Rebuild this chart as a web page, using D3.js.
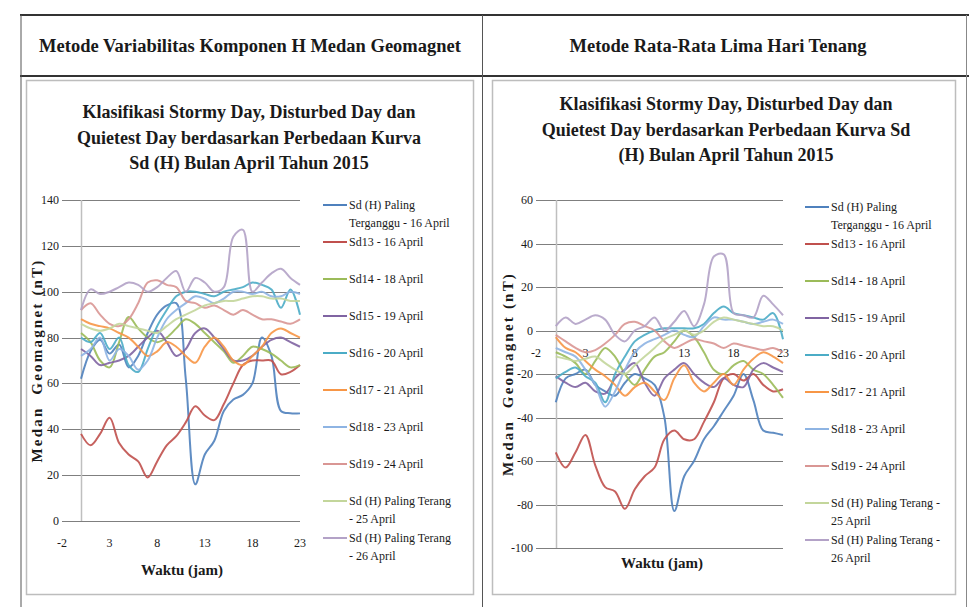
<!DOCTYPE html>
<html><head><meta charset="utf-8">
<script src="https://cdn.jsdelivr.net/npm/d3@7"></script>
<style>
html,body{margin:0;padding:0;background:#fff;}
svg{display:block;}
text{font-family:"Liberation Serif","Times New Roman",serif;fill:#1a1a1a;}
</style></head><body>
<svg id="c" width="969" height="607"></svg>
<script>
// ---------- DATA ----------
const hours = d3.range(0, 24);
const xTicks = [-2, 3, 8, 13, 18, 23];
const yTicksLeft = [0, 20, 40, 60, 80, 100, 120, 140];
const yTicksRight = [-100, -80, -60, -40, -20, 0, 20, 40, 60];

const headerLeft = "Metode Variabilitas Komponen H Medan Geomagnet";
const headerRight = "Metode Rata-Rata Lima Hari Tenang";
const titleLeft = ["Klasifikasi Stormy Day, Disturbed Day dan", "Quietest Day berdasarkan Perbedaan Kurva", "Sd (H) Bulan April Tahun 2015"];
const titleRight = ["Klasifikasi Stormy Day, Disturbed Day dan", "Quietest Day berdasarkan Perbedaan Kurva Sd", "(H) Bulan April Tahun 2015"];
const yTitle = "Medan  Geomagnet (nT)";
const xTitle = "Waktu (jam)";

const legendLeft = [["Sd (H) Paling", "Terganggu - 16 April"], ["Sd13 - 16 April"], ["Sd14 - 18 April"], ["Sd15 - 19 April"], ["Sd16 - 20 April"], ["Sd17 - 21 April"], ["Sd18 - 23 April"], ["Sd19 - 24 April"], ["Sd (H) Paling Terang", "- 25 April"], ["Sd (H) Paling Terang", "- 26 April"]];
const legendRight = [["Sd (H) Paling", "Terganggu - 16 April"], ["Sd13 - 16 April"], ["Sd14 - 18 April"], ["Sd15 - 19 April"], ["Sd16 - 20 April"], ["Sd17 - 21 April"], ["Sd18 - 23 April"], ["Sd19 - 24 April"], ["Sd (H) Paling Terang -", "25 April"], ["Sd (H) Paling Terang -", "26 April"]];

// Left chart (variability method)
const L1 = [62,74,79,73,77,67,72,82,90,94,95,62,16,29,35,48,53,55,60,80,72,48,47,47];
const L2 = [38,33,38,45,34,29,26,19,26,33,37,43,50,46,44,51,60,68,70,70,70,64,65,68];
const L3 = [82,78,70,67,78,89,84,80,78,80,84,88,86,82,78,74,69,72,76,75,73,70,67,68];
const L4 = [75,72,68,69,70,72,76,80,83,78,72,75,82,84,80,75,70,70,72,76,79,80,78,76];
const L5 = [80,78,82,75,80,68,65,75,85,92,98,100,100,99,98,100,101,102,104,103,101,93,101,90];
const L6 = [88,86,85,84,82,80,76,72,74,78,76,72,69,76,80,76,70,68,72,76,82,84,82,80];
const L7 = [72,75,80,70,75,72,66,70,80,88,92,95,98,97,95,97,100,100,99,100,98,98,100,99];
const L8 = [92,95,90,86,85,88,95,104,105,103,102,96,95,93,94,92,90,92,90,88,88,87,86,88];
const L9 = [86,84,83,84,86,85,84,83,82,85,88,90,92,94,95,96,96,97,98,98,97,97,96,96];
const L10 = [92,101,99,100,102,104,103,100,102,106,109,100,106,104,100,102,124,127,100,104,108,110,106,103];

// Right chart (five quiet days method)
const R1 = [-33,-22,-20,-18,-25,-28,-30,-24,-20,-22,-25,-40,-83,-67,-60,-50,-44,-37,-30,-20,-32,-46,-47,-48];
const R2 = [-56,-63,-56,-48,-62,-72,-74,-82,-73,-67,-63,-50,-46,-50,-50,-42,-33,-22,-20,-23,-20,-25,-28,-27];
const R3 = [-10,-12,-15,-20,-14,-8,-12,-20,-25,-18,-12,-10,-5,0,-3,-10,-18,-20,-16,-14,-18,-20,-25,-31];
const R4 = [-21,-24,-26,-24,-28,-29,-22,-18,-15,-24,-30,-22,-18,-15,-20,-24,-26,-22,-25,-26,-18,-15,-17,-19];
const R5 = [-22,-19,-17,-21,-24,-33,-20,-12,-5,-2,0,1,1,1,1,3,8,11,8,7,6,5,8,-4];
const R6 = [-3,-8,-10,-14,-18,-21,-25,-30,-26,-24,-28,-32,-22,-16,-24,-28,-24,-20,-25,-18,-13,-10,-12,-15];
const R7 = [-8,-10,-12,-18,-25,-35,-28,-18,-10,-6,-4,-2,0,-2,-3,2,6,5,5,4,3,4,5,3];
const R8 = [-2,-5,-8,-10,-9,-6,-2,3,4,2,0,-5,-8,-6,-4,-5,-6,-8,-6,-7,-8,-9,-8,-10];
const R9 = [-12,-13,-14,-13,-12,-15,-18,-20,-16,-12,-8,-4,-2,0,-2,0,4,6,5,4,3,2,2,0];
const R10 = [2,6,3,5,7,5,-2,-5,0,2,6,0,4,9,2,12,34,35,8,7,6,16,12,7];

const colors = ["#4F81BD","#C0504D","#9BBB59","#8064A2","#4BACC6","#F79646","#8EB4E3","#D99694","#C3D69B","#B3A2C7"];

// ---------- DRAW ----------
const svg = d3.select("#c");

// table frame
const tbl = svg.append("g");
tbl.append("line").attr("x1",20).attr("x2",969).attr("y1",15).attr("y2",15).attr("stroke","#333").attr("stroke-width",2);
tbl.append("line").attr("x1",20).attr("x2",969).attr("y1",76).attr("y2",76).attr("stroke","#333").attr("stroke-width",2);
tbl.append("line").attr("x1",21).attr("x2",21).attr("y1",15).attr("y2",607).attr("stroke","#555").attr("stroke-width",1);
tbl.append("line").attr("x1",482.5).attr("x2",482.5).attr("y1",15).attr("y2",607).attr("stroke","#555").attr("stroke-width",1);
tbl.append("line").attr("x1",966.5).attr("x2",966.5).attr("y1",15).attr("y2",607).attr("stroke","#888").attr("stroke-width",1);
tbl.append("text").attr("x",250).attr("y",46).attr("text-anchor","middle").attr("dominant-baseline","central")
  .attr("font-size",18.5).attr("font-weight","bold").text(headerLeft);
tbl.append("text").attr("x",718).attr("y",46).attr("text-anchor","middle").attr("dominant-baseline","central")
  .attr("font-size",18.5).attr("font-weight","bold").text(headerRight);

function chart(cfg) {
  const g = svg.append("g");
  // chart area border
  g.append("rect").attr("x",cfg.box[0]+0.5).attr("y",cfg.box[1]+0.5).attr("width",cfg.box[2]).attr("height",cfg.box[3])
    .attr("fill","none").attr("stroke","#bdbdbd").attr("stroke-width",1.5);
  // title
  cfg.title.forEach((t,i) => g.append("text").attr("x",cfg.titleX).attr("y",cfg.titleY + i*25.5)
    .attr("text-anchor","middle").attr("dominant-baseline","central").attr("font-size",18).attr("font-weight","bold").text(t));

  const x = d3.scaleLinear().domain([-2,23]).range(cfg.xr);
  const y = d3.scaleLinear().domain(cfg.yd).range(cfg.yr);

  // gridlines
  g.append("g").selectAll("line").data(cfg.yTicks).join("line")
    .attr("x1",x(-2)).attr("x2",x(23)).attr("y1",d=>Math.round(y(d))+0.5).attr("y2",d=>Math.round(y(d))+0.5)
    .attr("stroke","#7f7f7f").attr("stroke-width",1);
  // y tick labels
  g.append("g").selectAll("text").data(cfg.yTicks).join("text")
    .attr("x",x(-2)-3).attr("y",d=>y(d)).attr("text-anchor","end").attr("dominant-baseline","central")
    .attr("font-size",12).attr("fill","#333").text(d=>d);
  // vertical axis line at x=0
  g.append("line").attr("x1",Math.round(x(0))+0.5).attr("x2",Math.round(x(0))+0.5)
    .attr("y1",y(cfg.yd[1])).attr("y2",y(cfg.yd[0])).attr("stroke","#bfbfbf").attr("stroke-width",1.5);
  // x tick labels (below horizontal axis at 0)
  g.append("g").selectAll("text").data(xTicks).join("text")
    .attr("x",d=>x(d)).attr("y",y(0)+22).attr("text-anchor","middle").attr("dominant-baseline","central")
    .attr("font-size",12).attr("fill","#333").text(d=>d);

  // series
  const line = d3.line().x((d,i)=>x(hours[i])).y(d=>y(d)).curve(d3.curveCatmullRom.alpha(0.5));
  g.append("g").selectAll("path").data(cfg.series).join("path")
    .attr("d",d=>line(d)).attr("fill","none").attr("stroke",(d,i)=>colors[i])
    .attr("stroke-width",2).attr("stroke-linejoin","round").attr("stroke-opacity",0.9);

  // axis titles
  g.append("text").attr("transform",`translate(${cfg.yTitleX},${(y(cfg.yd[0])+y(cfg.yd[1]))/2}) rotate(-90)`)
    .attr("text-anchor","middle").attr("dominant-baseline","central").attr("font-size",15).attr("font-weight","bold")
    .attr("letter-spacing",2.2).style("white-space","pre").text(yTitle);
  g.append("text").attr("x",cfg.xTitle[0]).attr("y",cfg.xTitle[1]).attr("text-anchor","middle").attr("dominant-baseline","central")
    .attr("font-size",15).attr("font-weight","bold").text(xTitle);

  // legend
  const lg = g.append("g");
  cfg.legend.forEach((lab,i) => {
    const yy = cfg.legY + i*37;
    lg.append("line").attr("x1",cfg.legX).attr("x2",cfg.legX+24).attr("y1",yy).attr("y2",yy)
      .attr("stroke",colors[i]).attr("stroke-width",2);
    lab.forEach((t,j) => lg.append("text").attr("x",cfg.legX+26).attr("y",yy + j*18)
      .attr("dominant-baseline","central").attr("font-size",12).attr("fill","#222").text(t));
  });
}

chart({
  box:[26,80,447,514], title:titleLeft, titleX:249, titleY:112,
  xr:[62,300], yd:[0,140], yr:[521,200], yTicks:yTicksLeft,
  series:[L1,L2,L3,L4,L5,L6,L7,L8,L9,L10],
  yTitleX:37, xTitle:[182,570], legend:legendLeft, legX:323, legY:205
});
chart({
  box:[492,80,463,514], title:titleRight, titleX:726, titleY:104,
  xr:[536,783], yd:[-100,60], yr:[548,200], yTicks:yTicksRight,
  series:[R1,R2,R3,R4,R5,R6,R7,R8,R9,R10],
  yTitleX:508, xTitle:[662,563], legend:legendRight, legX:805, legY:207
});
</script>
</body></html>
